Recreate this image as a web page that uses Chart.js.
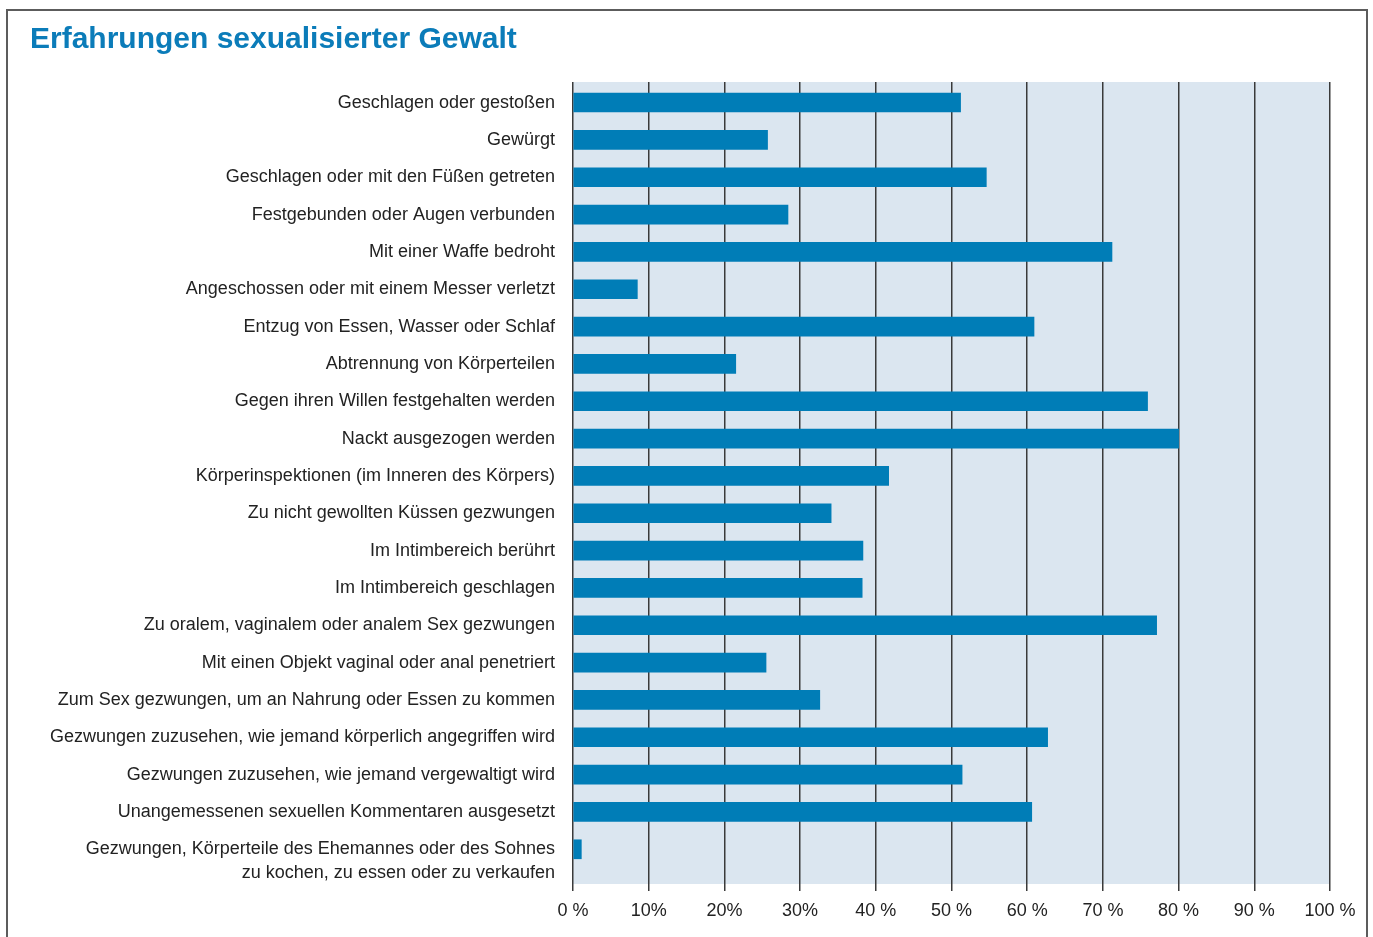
<!DOCTYPE html>
<html>
<head>
<meta charset="utf-8">
<script src="https://cdn.jsdelivr.net/npm/chart.js@4"></script>
<style>
  html, body { margin: 0; padding: 0; background: #fff; overflow: hidden; }
  #wrap { position: relative; width: 1373px; height: 937px; }
  #frame { position: absolute; left: 6px; top: 9px; width: 1358px; height: 1000px;
           border: 2px solid #5c5c5c; border-bottom: none; pointer-events: none; }
</style>
</head>
<body>
<div id="wrap">
  <canvas id="violenceChart"></canvas>
  <div id="frame"></div>
</div>
<script>
const categories = [
  'Geschlagen oder gestoßen',
  'Gewürgt',
  'Geschlagen oder mit den Füßen getreten',
  'Festgebunden oder Augen verbunden',
  'Mit einer Waffe bedroht',
  'Angeschossen oder mit einem Messer verletzt',
  'Entzug von Essen, Wasser oder Schlaf',
  'Abtrennung von Körperteilen',
  'Gegen ihren Willen festgehalten werden',
  'Nackt ausgezogen werden',
  'Körperinspektionen (im Inneren des Körpers)',
  'Zu nicht gewollten Küssen gezwungen',
  'Im Intimbereich berührt',
  'Im Intimbereich geschlagen',
  'Zu oralem, vaginalem oder analem Sex gezwungen',
  'Mit einen Objekt vaginal oder anal penetriert',
  'Zum Sex gezwungen, um an Nahrung oder Essen zu kommen',
  'Gezwungen zuzusehen, wie jemand körperlich angegriffen wird',
  'Gezwungen zuzusehen, wie jemand vergewaltigt wird',
  'Unangemessenen sexuellen Kommentaren ausgesetzt',
  'Gezwungen, Körperteile des Ehemannes oder des Sohnes\nzu kochen, zu essen oder zu verkaufen',
];

const shares = [51.2, 25.7, 54.6, 28.4, 71.2, 8.5, 60.9, 21.5, 75.9, 80.0, 41.7,
                34.1, 38.3, 38.2, 77.1, 25.5, 32.6, 62.7, 51.4, 60.6, 1.1];

const tickLabels = ['0 %', '10%', '20%', '30%', '40 %', '50 %', '60 %', '70 %', '80 %', '90 %', '100 %'];

const textColor = '#222';
const labelFont = { family: 'Liberation Sans, Arial, sans-serif', size: 18 };

// one y tick per text line, so a wrapped label starts level with its bar
const lineStep = 0.643;
const yTicks = [];
categories.forEach((label, i) => {
  label.split('\n').forEach((line, j) => {
    yTicks.push({ value: i + j * lineStep, label: line });
  });
});

const plotBackground = {
  id: 'plotBackground',
  beforeDraw(chart) {
    const { ctx, chartArea } = chart;
    ctx.save();
    ctx.fillStyle = '#dbe6f0';
    ctx.fillRect(chartArea.left, chartArea.top, chartArea.right - chartArea.left, chartArea.bottom - chartArea.top);
    ctx.restore();
  },
};

const ctx = document.getElementById('violenceChart').getContext('2d');
const violenceChart = new Chart(ctx, {
  type: 'bar',
  data: {
    datasets: [
      {
        data: shares.map((v, i) => ({ x: v, y: i })),
        backgroundColor: '#007db7',
        barThickness: 19,
      },
    ],
  },
  plugins: [plotBackground],
  options: {
    indexAxis: 'y',
    responsive: true,
    maintainAspectRatio: false,
    animation: false,
    layout: {
      padding: { left: 30, right: 43, top: 0, bottom: 0 },
    },
    plugins: {
      legend: { display: false },
      tooltip: { enabled: false },
      title: {
        display: true,
        text: 'Erfahrungen sexualisierter Gewalt',
        align: 'start',
        color: '#0b7cb9',
        font: { family: 'Liberation Sans, Arial, sans-serif', size: 30, weight: 'bold' },
        padding: { top: 22, bottom: 24 },
      },
    },
    scales: {
      x: {
        type: 'linear',
        position: 'bottom',
        min: 0,
        max: 100,
        afterFit(axis) { axis.height = 53; },
        ticks: {
          stepSize: 10,
          color: textColor,
          font: labelFont,
          padding: 9,
          callback: (value, index) => tickLabels[index],
        },
        grid: {
          color: '#3a3a3a',
          lineWidth: 1.5,
          tickLength: 7,
        },
        border: { display: false },
      },
      y: {
        type: 'linear',
        reverse: true,
        offset: false,
        min: -0.55,
        max: 20.93,
        afterFit(axis) { axis.width = 543; },
        afterBuildTicks(axis) {
          axis.ticks = yTicks.map(t => ({ value: t.value }));
        },
        ticks: {
          autoSkip: false,
          color: textColor,
          font: labelFont,
          padding: 18,
          callback: (value, index) => yTicks[index].label,
        },
        grid: { display: false, drawTicks: false, offset: false },
        border: { display: false },
      },
    },
  },
});
</script>
</body>
</html>
